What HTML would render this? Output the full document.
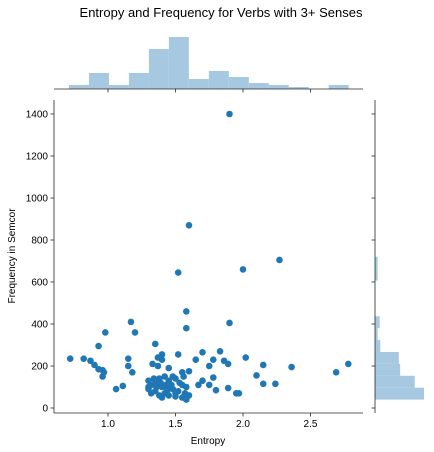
<!DOCTYPE html>
<html><head><meta charset="utf-8">
<style>
html,body{margin:0;padding:0;background:#fff;}
svg{display:block;font-family:"Liberation Sans","DejaVu Sans",sans-serif;}
</style></head>
<body>
<svg id="chart" width="434" height="452" viewBox="0 0 434 452" xmlns="http://www.w3.org/2000/svg">
<text x="221" y="17" font-size="13" text-anchor="middle" fill="#000">Entropy and Frequency for Verbs with 3+ Senses</text>
<g id="top"></g><g id="right"></g><g id="main"></g>
<text x="208" y="444" font-size="10" text-anchor="middle">Entropy</text>
<text transform="translate(15,256) rotate(-90)" font-size="10" text-anchor="middle">Frequency in Semcor</text>
</svg>
<script>
const entropy=[1.9,1.6,1.52,2.0,2.27,1.58,1.9,1.17,1.58,0.98,1.2,1.35,0.93,1.37,1.4,1.52,1.7,1.83,2.02,1.78,1.65,1.86,1.89,2.15,2.36,2.78,2.69,0.72,0.82,0.87,0.9,0.93,0.96,0.97,0.96,1.15,1.15,1.18,1.33,1.37,1.4,1.45,1.55,1.6,1.78,1.75,1.7,1.67,1.75,1.8,1.89,1.95,1.97,2.1,2.15,2.24,1.06,1.11,1.3,1.32,1.35,1.3,1.38,1.42,1.45,1.5,1.55,1.58,1.48,1.4,1.35,1.42,1.45,1.5,1.55,1.58,1.38,1.32,1.47,1.52,1.57,1.4,1.3,1.36,1.44,1.5,1.53,1.48,1.56,1.6,1.43,1.34,1.39,1.46];
const frequency=[1400,870,645,660,705,460,405,410,380,360,360,305,295,240,255,255,265,270,240,230,230,225,210,205,195,210,170,235,235,225,205,185,180,170,150,235,200,170,210,200,230,190,170,175,145,200,130,110,110,85,95,70,70,155,115,115,90,105,100,110,120,130,140,150,130,140,110,100,90,100,80,70,60,55,50,40,60,70,110,80,70,50,90,100,85,70,120,150,150,60,110,140,120,100];
const xTicks=[1.0,1.5,2.0,2.5];
const yTicks=[0,200,400,600,800,1000,1200,1400];
const topCounts=[2,8,2,8,20,26,5,9,6,3,2,1,0,2];
const topStart=0.711, topBinW=0.148;
const rightCounts=[37,30,19,18,4,2,3.5,0,0,0,2,2];
const rightStart=40, rightBinW=56.7;

const NS="http://www.w3.org/2000/svg";
const L=54,R=363,T=100,B=413;
const X=v=>54+(v-0.6)*135;
const Y=v=>408-v*0.21;
function mk(tag,attrs,parent){const e=document.createElementNS(NS,tag);for(const k in attrs)e.setAttribute(k,attrs[k]);parent.appendChild(e);return e;}
const main=document.getElementById('main'),top_=document.getElementById('top'),right=document.getElementById('right');
const HC="#a6c8e0", PC="#1f77b4", AX="#262626";

const tmax=Math.max(...topCounts);
topCounts.forEach((c,i)=>{
  if(!c)return;
  const h=c/tmax*52;
  const x0=X(topStart+i*topBinW),x1=X(topStart+(i+1)*topBinW);
  const r=mk('rect',{x:x0,y:89-h,width:x1-x0,height:h,fill:HC},top_);
  
  
});
let l=mk('line',{x1:L,x2:R,y1:89,y2:89,stroke:AX,'stroke-width':0.8},top_);


xTicks.forEach(t=>{mk('line',{x1:X(t),x2:X(t),y1:89,y2:92.5,stroke:AX,'stroke-width':0.8},top_);});

const rmax=Math.max(...rightCounts);
rightCounts.forEach((c,i)=>{
  if(!c)return;
  const w=c/rmax*49;
  const y0=Y(rightStart+(i+1)*rightBinW),y1=Y(rightStart+i*rightBinW);
  const r=mk('rect',{x:375,y:y0,width:w,height:y1-y0,fill:HC},right);
  
  
});
l=mk('line',{x1:375,x2:375,y1:T,y2:B,stroke:AX,'stroke-width':0.8},right);


yTicks.forEach(t=>{mk('line',{x1:371.5,x2:375,y1:Y(t),y2:Y(t),stroke:AX,'stroke-width':0.8},right);});

entropy.forEach((e,i)=>{
  const c=mk('circle',{cx:X(e),cy:Y(frequency[i]),r:3.3,fill:PC},main);
  
  
});
l=mk('line',{x1:L,x2:L,y1:T,y2:B,stroke:AX,'stroke-width':0.8},main);


l=mk('line',{x1:L,x2:R,y1:B,y2:B,stroke:AX,'stroke-width':0.8},main);


xTicks.forEach(t=>{
  mk('line',{x1:X(t),x2:X(t),y1:B,y2:B+3.5,stroke:AX,'stroke-width':0.8},main);
  const tx=mk('text',{x:X(t),y:B+14,'font-size':10,'text-anchor':'middle',fill:'#000'},main);
  tx.textContent=t.toFixed(1);
  
  
});
yTicks.forEach(t=>{
  mk('line',{x1:L-3.5,x2:L,y1:Y(t),y2:Y(t),stroke:AX,'stroke-width':0.8},main);
  const tx=mk('text',{x:L-6,y:Y(t)+3.5,'font-size':10,'text-anchor':'end',fill:'#000'},main);
  tx.textContent=t;
  
  
});
</script>
</body></html>
